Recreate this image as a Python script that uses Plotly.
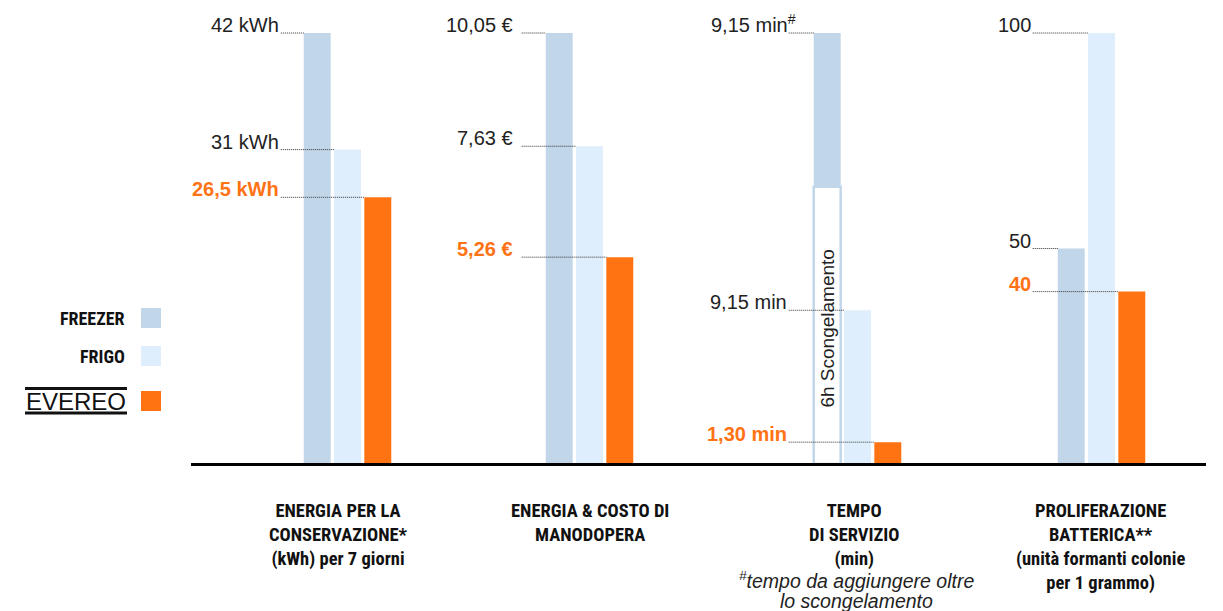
import plotly.graph_objects as go

W, H = 1223, 611

# ---------------- data ----------------
categories = [
    "ENERGIA PER LA<br>CONSERVAZIONE*<br>(kWh) per 7 giorni",
    "ENERGIA & COSTO DI<br>MANODOPERA",
    "TEMPO<br>DI SERVIZIO<br>(min)",
    "PROLIFERAZIONE<br>BATTERICA**<br>(unità formanti colonie<br>per 1 grammo)",
]
series_names = ["FREEZER", "FRIGO", "EVEREO"]
freezer = [42, 10.05, 9.15, 50]
frigo = [31, 7.63, 9.15, 100]
evereo = [26.5, 5.26, 1.30, 40]
freezer_text = ["42 kWh", "10,05 €", "9,15 min<sup>#</sup>", "50"]
frigo_text = ["31 kWh", "7,63 €", "9,15 min", "100"]
evereo_text = ["26,5 kWh", "5,26 €", "1,30 min", "40"]
# thawing segment drawn under the freezer bar (estimated length, minutes-equivalent)
scongelamento = [0, 0, 16.5, 0]
scongelamento_text = "6h Scongelamento"
footnote = ["<sup>#</sup>tempo da aggiungere oltre", "lo scongelamento"]

# ---------------- style / layout ----------------
C_FREEZER = "#c2d6ea"
C_FRIGO = "#dfeefc"
C_EVEREO = "#ff7313"
C_ORANGE_TXT = "#ff7315"
C_TXT = "#222222"
NARROW = "Liberation Sans Narrow, Roboto Condensed, Arial Narrow, sans-serif"
REG = "Liberation Sans, Arial, sans-serif"

pitch = 30.3                       # px per category slot
group_center = [347.5, 589.5, 857.5, 1101.5]   # px, centre of each group
x_lo = -3.0                        # left end of each panel's category axis
y_floor = [1.34, 0.84, 0, 0]       # lower bound of each panel's value axis
label_end = [-1.2, -1.45, -1.27, -1.27]   # x (slot units) where value labels end
line_start = [-1.2, -1.24, -1.27, -1.27]  # x where the dotted leader starts
cat_center = [338.5, 590, 854, 1100.5]
bar_w = 0.89
top_px, base_px = 33, 464


def px(x):
    return x / W


def py(y):
    return 1 - y / H


fig = go.Figure()
layout = dict(
    width=W, height=H, margin=dict(l=0, r=0, t=0, b=0),
    paper_bgcolor="white", plot_bgcolor="rgba(0,0,0,0)",
    showlegend=False, barmode="overlay",
)
annotations = []
shapes = []

for i in range(4):
    sfx = "" if i == 0 else str(i + 1)
    xa, ya = "x" + sfx, "y" + sfx
    c = group_center[i]
    layout["xaxis" + sfx] = dict(
        domain=[px(c + (x_lo - 1) * pitch), px(c + 1.5 * pitch)], range=[x_lo, 2.5],
        visible=False, fixedrange=True, anchor=ya)
    tops = [scongelamento[i] + freezer[i], frigo[i], evereo[i]]
    layout["yaxis" + sfx] = dict(
        domain=[py(base_px), py(top_px - 2)],
        range=[y_floor[i], max(tops) + (max(tops) - y_floor[i]) * 2 / (base_px - top_px)],
        visible=False, fixedrange=True, anchor=xa)

    # freezer (with optional thawing box underneath)
    if scongelamento[i] > 0:
        fig.add_trace(go.Bar(x=[0], y=[scongelamento[i]], width=bar_w, xaxis=xa, yaxis=ya,
                             marker=dict(color="white", line=dict(color=C_FREEZER, width=2.5)),
                             hoverinfo="skip"))
        annotations.append(dict(x=0, y=scongelamento[i] / 2, xref=xa, yref=ya, yshift=-3,
                                text=scongelamento_text, textangle=-90, showarrow=False,
                                font=dict(family=REG, size=19, color=C_TXT)))
        fig.add_trace(go.Bar(x=[0], y=[freezer[i]], base=[scongelamento[i]], width=bar_w,
                             xaxis=xa, yaxis=ya, marker=dict(color=C_FREEZER, line=dict(width=0)),
                             name=series_names[0]))
    else:
        fig.add_trace(go.Bar(x=[0], y=[freezer[i]], width=bar_w, xaxis=xa, yaxis=ya,
                             marker=dict(color=C_FREEZER, line=dict(width=0)),
                             name=series_names[0]))
    fig.add_trace(go.Bar(x=[1], y=[frigo[i]], width=bar_w, xaxis=xa, yaxis=ya,
                         marker=dict(color=C_FRIGO, line=dict(width=0)), name=series_names[1]))
    fig.add_trace(go.Bar(x=[2], y=[evereo[i]], width=bar_w, xaxis=xa, yaxis=ya,
                         marker=dict(color=C_EVEREO, line=dict(width=0)), name=series_names[2]))

    texts = [freezer_text[i], frigo_text[i], evereo_text[i]]
    for s in range(3):
        orange = s == 2
        annotations.append(dict(
            x=label_end[i], y=tops[s], xref=xa, yref=ya, xanchor="right", yanchor="bottom",
            yshift=-5, xshift=(9 if "<sup>" in texts[s] else 0), showarrow=False,
            text=("<b>%s</b>" % texts[s]) if orange else texts[s],
            font=dict(family=REG, size=20, color=C_ORANGE_TXT if orange else C_TXT)))
        shapes.append(dict(type="line", xref=xa, yref=ya, x0=line_start[i], x1=s - bar_w / 2,
                           y0=tops[s], y1=tops[s],
                           line=dict(color="#333333", width=1, dash="1px,1px")))

    # category label
    annotations.append(dict(
        x=px(cat_center[i]), y=py(498), xref="paper", yref="paper", xanchor="center",
        yanchor="top", showarrow=False, align="center", text="<b>%s</b>" % categories[i],
        font=dict(family=NARROW, size=18.5, color="#111111")))

# footnote under group 3
for k, line in enumerate(footnote):
    annotations.append(dict(
        x=px(856), y=py(580 + 21 * k), xref="paper", yref="paper", xanchor="center",
        yanchor="middle", showarrow=False, text="<i>%s</i>" % line,
        font=dict(family=REG, size=19.5, color=C_TXT)))

# baseline
shapes.append(dict(type="line", xref="paper", yref="paper", x0=px(191), x1=px(1206),
                   y0=py(464.5), y1=py(464.5), line=dict(color="black", width=3)))

# legend
leg_y = [318, 356, 401]
leg_col = [C_FREEZER, C_FRIGO, C_EVEREO]
for k in range(3):
    shapes.append(dict(type="rect", xref="paper", yref="paper", x0=px(141), x1=px(161),
                       y0=py(leg_y[k] - 10), y1=py(leg_y[k] + 10),
                       fillcolor=leg_col[k], line=dict(width=0)))
for k in range(2):
    annotations.append(dict(x=px(127), y=py(leg_y[k]), xref="paper", yref="paper",
                            xanchor="right", yanchor="middle", showarrow=False,
                            text="<b>%s</b>" % series_names[k],
                            font=dict(family=NARROW, size=18, color="#111111")))
# EVEREO logo (text between two rules)
annotations.append(dict(x=px(76), y=py(401.5), xref="paper", yref="paper", xanchor="center",
                        yanchor="middle", showarrow=False, text=series_names[2],
                        font=dict(family=REG, size=24, color="#111111")))
for yy in (388.5, 413):
    shapes.append(dict(type="line", xref="paper", yref="paper", x0=px(25), x1=px(127),
                       y0=py(yy), y1=py(yy), line=dict(color="#111111", width=3)))

layout["annotations"] = annotations
layout["shapes"] = shapes
fig.update_layout(**layout)
fig.write_html("out.html")
